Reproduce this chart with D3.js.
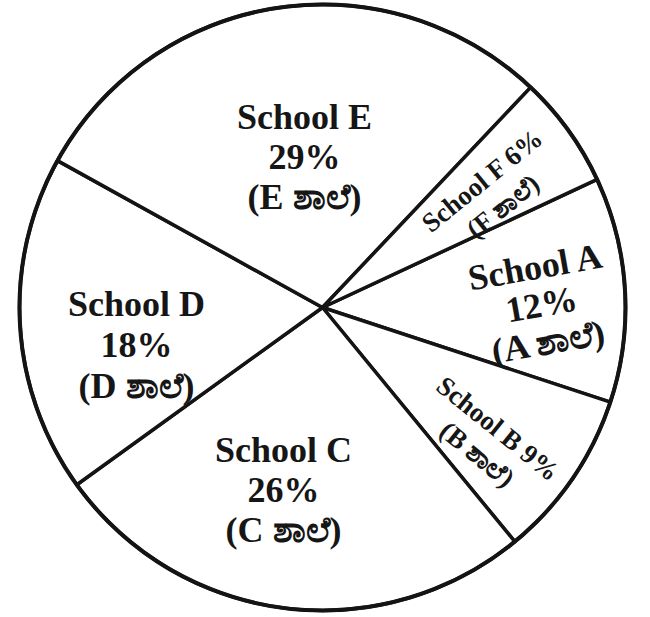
<!DOCTYPE html>
<meta charset="utf-8">
<head>
  <script src="https://d3js.org/d3.v7.min.js"></script>
  <style>
    body { margin: 0; background: #fff; }
    text { font-family: "Liberation Serif", "Times New Roman", serif; font-weight: bold; fill: #161616; }
  </style>
</head>
<body>
<div id="container"></div>
<script>
// chart data
var schools = ["A", "B", "C", "D", "E", "F"];
var shares = [12, 9, 26, 18, 29, 6];
var localNames = ["(A ಶಾಲೆ)", "(B ಶಾಲೆ)", "(C ಶಾಲೆ)", "(D ಶಾಲೆ)", "(E ಶಾಲೆ)", "(F ಶಾಲೆ)"];

var width = 650, height = 617;
var cx = 322.5, cy = 307.5, radius = 303;

// where each label block sits, relative to the centre (px), and its tilt
var labelLayout = {
  A: { dx: 219, dy: -3, rot: -10, size: 36, gap: 38, lines: 3 },
  B: { dx: 165, dy: 134, rot: 39, size: 27, gap: 33, lines: 2 },
  C: { dx: -39, dy: 182, rot: 0, size: 36, gap: 40, lines: 3 },
  D: { dx: -186, dy: 37, rot: 0, size: 36, gap: 41, lines: 3 },
  E: { dx: -18, dy: -151, rot: 0, size: 36, gap: 40, lines: 3 },
  F: { dx: 170, dy: -114, rot: -39, size: 27, gap: 33, lines: 2 }
};

var data = schools.map(function(s, i) {
  return { school: s, value: shares[i], local: localNames[i] };
});

var svg = d3.select("#container").append("svg")
  .attr("width", width)
  .attr("height", height);

var g = svg.append("g").attr("transform", "translate(" + cx + "," + cy + ")");

var startDeg = 65;
var pie = d3.pie()
  .sort(null)
  .value(function(d) { return d.value; })
  .startAngle(startDeg * Math.PI / 180)
  .endAngle(startDeg * Math.PI / 180 + 2 * Math.PI);

var arc = d3.arc().innerRadius(0).outerRadius(radius);

g.selectAll("path.slice")
  .data(pie(data))
  .enter().append("path")
  .attr("class", "slice")
  .attr("d", arc)
  .attr("fill", "#fff")
  .attr("stroke", "#141414")
  .attr("stroke-width", 3.5)
  .attr("stroke-linejoin", "round");

// outer ring slightly heavier
g.append("circle")
  .attr("r", radius)
  .attr("fill", "none")
  .attr("stroke", "#141414")
  .attr("stroke-width", 4);

var labels = g.selectAll("g.label")
  .data(data)
  .enter().append("g")
  .attr("class", "label")
  .attr("transform", function(d) {
    var L = labelLayout[d.school];
    return "translate(" + L.dx + "," + L.dy + ") rotate(" + L.rot + ")";
  });

labels.each(function(d) {
  var L = labelLayout[d.school];
  var rows = L.lines === 3
    ? ["School " + d.school, d.value + "%", d.local]
    : ["School " + d.school + " " + d.value + "%", d.local];
  var sel = d3.select(this);
  rows.forEach(function(t, i) {
    sel.append("text")
      .attr("text-anchor", "middle")
      .attr("dominant-baseline", "central")
      .attr("y", (i - (rows.length - 1) / 2) * L.gap)
      .style("font-size", L.size + "px")
      .text(t);
  });
});
</script>
</body>
